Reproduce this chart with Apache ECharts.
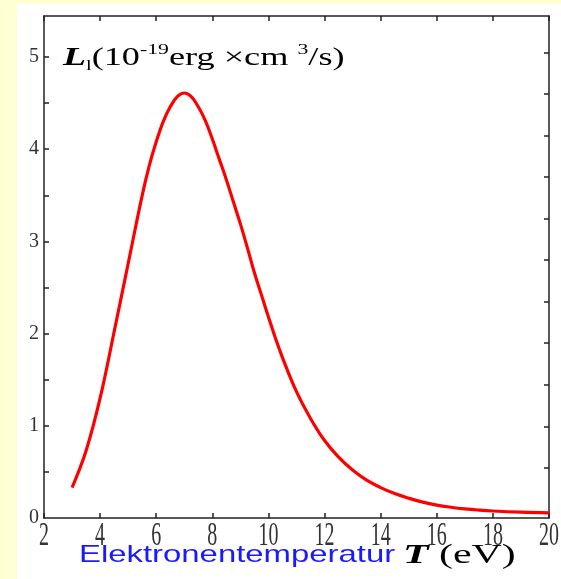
<!DOCTYPE html>
<html>
<head>
<meta charset="utf-8">
<script src="https://cdn.jsdelivr.net/npm/echarts@6/dist/echarts.min.js"></script>
<style>
  html, body { margin: 0; padding: 0; background: #FFFFD4; }
</style>
</head>
<body>
<div id="main" style="width: 561px; height: 579px"></div>
<script>
// electron temperature (eV)
var temps = [3, 3.5, 4, 4.5, 5, 5.5, 5.75, 6, 6.25, 6.5, 6.75, 7, 7.25, 7.5, 7.75, 8, 8.25, 8.5, 8.75, 9, 9.25, 9.5, 9.75, 10, 10.25, 10.5, 11, 11.5,
  12, 12.5, 13, 13.5, 14, 14.5, 15, 15.5, 16, 16.5, 17, 17.5, 18, 19, 20];
// L_l in 10^-19 erg cm^3/s
var values = [0.33, 0.73, 1.30, 2.02, 2.76, 3.50, 3.82, 4.08, 4.30, 4.46, 4.57, 4.61, 4.57, 4.46, 4.31, 4.11, 3.89, 3.67, 3.43, 3.19, 2.93, 2.66, 2.42, 2.18, 1.95, 1.74, 1.37, 1.08,
  0.84, 0.66, 0.52, 0.41, 0.33, 0.265, 0.215, 0.172, 0.14, 0.117, 0.099, 0.086, 0.076, 0.063, 0.056];

var xLabels = [2, 4, 6, 8, 10, 12, 14, 16, 18, 20];
var yLabels = [0, 1, 2, 3, 4, 5];
var leftTicks = [0.5, 1, 1.5, 2, 2.5, 3, 3.5, 4, 4.5, 5];
var rightTicks = [0.54, 0.99, 1.44, 1.9, 2.35, 2.8, 3.25, 3.7, 4.15, 4.6, 5.05];

var serif = "'Liberation Serif', 'Times New Roman', serif";
var axisColor = '#222';

var points = temps.map(function (t, i) { return [t, values[i]]; });

var baseGraphics = [
  {
    id: 'panel', type: 'rect', silent: true, z: -10,
    shape: { x: 17, y: 4, width: 561, height: 579 },
    style: { fill: '#ffffff' }
  },
  {
    id: 'title', type: 'text', x: 63, y: 58, scaleX: 1.45,
    style: {
      text: '{L|L}{sub|l}{n|(10}{sup|-19}{n|erg ×cm }{sup|3}{n|/s)}',
      verticalAlign: 'middle',
      rich: {
        L: { fontFamily: serif, fontSize: 26, fontStyle: 'italic', fontWeight: 'bold', fill: '#000', lineHeight: 30 },
        sub: { fontFamily: serif, fontSize: 14, fill: '#000', lineHeight: 13, verticalAlign: 'bottom' },
        sup: { fontFamily: serif, fontSize: 15, fill: '#000', lineHeight: 15, verticalAlign: 'top' },
        n: { fontFamily: serif, fontSize: 25, fill: '#000', lineHeight: 30 }
      }
    }
  },
  {
    id: 'xname', type: 'text', x: 79, y: 555, scaleX: 1.37,
    style: {
      text: 'Elektronentemperatur',
      fontFamily: "'Liberation Sans', Arial, sans-serif", fontSize: 24, fill: '#1a1aff',
      verticalAlign: 'middle'
    }
  },
  {
    id: 'xunit', type: 'text', x: 403, y: 556, scaleX: 1.55,
    style: {
      text: '{T|T}{n| (eV)}',
      verticalAlign: 'middle',
      rich: {
        T: { fontFamily: serif, fontSize: 27, fontStyle: 'italic', fontWeight: 'bold', fill: '#000', lineHeight: 32 },
        n: { fontFamily: serif, fontSize: 27, fill: '#000', lineHeight: 32 }
      }
    }
  }
];

var option = {
  backgroundColor: '#FFFFD4',
  animation: false,
  grid: { left: 44, right: 12, top: 16, bottom: 61 },
  xAxis: [
    {
      type: 'value', position: 'bottom', min: 2, max: 20, interval: 2,
      axisLine: { show: true, onZero: false, lineStyle: { color: axisColor, width: 1.5 } },
      axisTick: { show: true, inside: true, length: 5, lineStyle: { color: axisColor, width: 1.5 } },
      axisLabel: { show: false },
      splitLine: { show: false }
    },
    {
      type: 'value', position: 'top', min: 2, max: 20, interval: 2,
      axisLine: { show: true, onZero: false, lineStyle: { color: axisColor, width: 1.5 } },
      axisTick: { show: true, inside: true, length: 5, lineStyle: { color: axisColor, width: 1.5 } },
      axisLabel: { show: false },
      splitLine: { show: false }
    }
  ],
  yAxis: [
    {
      type: 'value', position: 'left', min: 0, max: 5.445,
      axisLine: { show: true, onZero: false, lineStyle: { color: axisColor, width: 1.5 } },
      axisTick: { show: true, inside: true, length: 5, customValues: leftTicks, lineStyle: { color: axisColor, width: 1.5 } },
      axisLabel: { customValues: yLabels, fontFamily: serif, fontSize: 20, color: '#333', margin: 5 },
      splitLine: { show: false }
    },
    {
      type: 'value', position: 'right', min: 0, max: 5.445,
      axisLine: { show: true, onZero: false, lineStyle: { color: axisColor, width: 1.5 } },
      axisTick: { show: true, inside: true, length: 5, customValues: rightTicks, lineStyle: { color: axisColor, width: 1.5 } },
      axisLabel: { show: false },
      splitLine: { show: false }
    }
  ],
  graphic: { elements: baseGraphics },
  series: [
    {
      type: 'line',
      data: points,
      smooth: 0.4,
      showSymbol: false,
      lineStyle: { color: '#ff0000', width: 3.2 },
      z: 3
    }
  ]
};

var chart = echarts.init(document.getElementById('main'));
chart.setOption(option);

// x tick labels: tall, narrow serif digits placed at the axis positions
var y0 = chart.convertToPixel({ yAxisIndex: 0 }, 0);
var labelEls = xLabels.map(function (v, i) {
  return {
    id: 'xl' + i, type: 'text',
    x: chart.convertToPixel({ xAxisIndex: 0 }, v), y: y0 + 18, scaleY: 1.7,
    style: {
      text: String(v), fontFamily: serif, fontSize: 20, fill: '#333',
      textAlign: 'center', verticalAlign: 'middle'
    }
  };
});
chart.setOption({ graphic: { elements: baseGraphics.concat(labelEls) } });
</script>
</body>
</html>
